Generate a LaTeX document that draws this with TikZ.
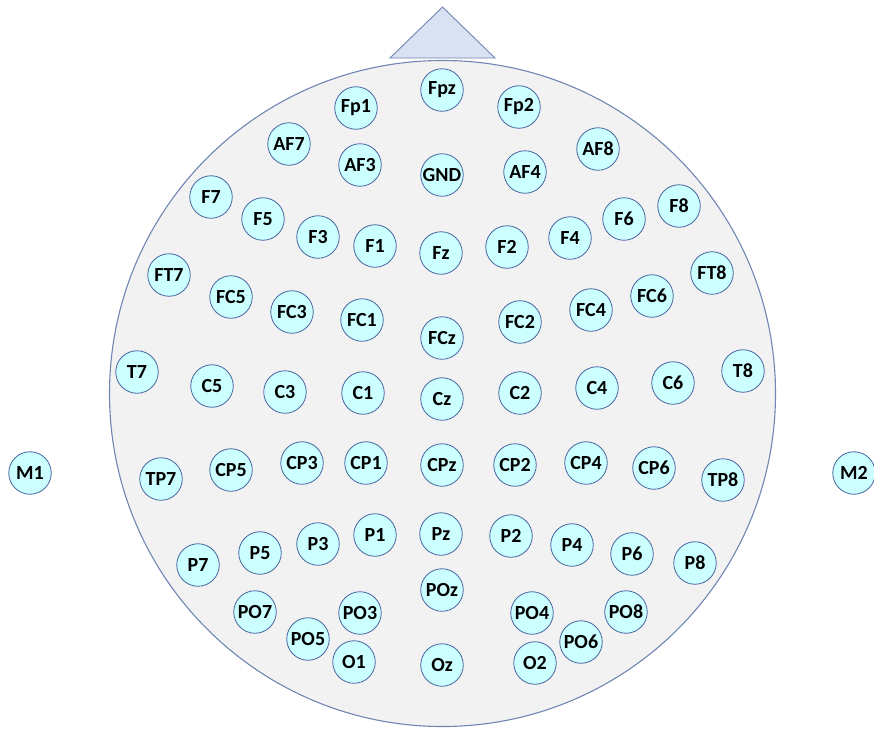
\documentclass[tikz,border=0pt]{standalone}
\usepackage{fontspec}
\setmainfont{Carlito}
\usepackage{tikz}
\usetikzlibrary{positioning}
\definecolor{scalpgray}{RGB}{242,242,242}
\definecolor{outlineblue}{RGB}{112,134,180}
\definecolor{nosefill}{RGB}{217,225,242}
\definecolor{padcyan}{RGB}{204,255,255}
\definecolor{padedge}{RGB}{72,100,160}

\begin{document}
\begin{tikzpicture}[x=1pt, y=-1pt,
    electrode/.style={circle, draw=padedge, line width=0.8pt, fill=padcyan,
      minimum size=42.5pt, inner sep=0pt,
      font=\fontsize{20}{23}\selectfont\bfseries},
    head/.style={draw=outlineblue, line width=1.1pt, fill=scalpgray},
    nose/.style={draw=outlineblue, line width=0.9pt, fill=nosefill}]
  \useasboundingbox (0,0) rectangle (874,731);
  % nose and scalp
  \draw[nose] (390,58) -- (442.5,7) -- (495,58) -- cycle;
  \draw[head] (442.5,393.5) circle (333);
  % midline
  \foreach \n/\x/\y in {Fpz/442/90, GND/442/175, Fz/441/253, FCz/442/338,
      Cz/442/399, CPz/442/465, Pz/441/534, POz/442/590, Oz/442/665}
    \node[electrode] (\n) at (\x,\y) {\n};
  % left hemisphere
  \foreach \n/\x/\y in {Fp1/356/108, AF7/289/144, AF3/360/165,
      F7/211/197, F5/263/219, F3/318/237, F1/375/246,
      FT7/169/275, FC5/231/297, FC3/292/312, FC1/362/320,
      T7/137/372, C5/212/386, C3/285/392, C1/363/393,
      TP7/161/479, CP5/231/470, CP3/302/463, CP1/366/463,
      P7/198/565, P5/260/553, P3/318/544, P1/375/535,
      PO7/255/612, PO3/360/613, PO5/308/639, O1/354/662}
    \node[electrode] (\n) at (\x,\y) {\n};
  % right hemisphere
  \foreach \n/\x/\y in {Fp2/519/107, AF8/598/149, AF4/525/172,
      F8/679/206, F6/624/219, F4/570/238, F2/507/247,
      FT8/712/273, FC6/652/296, FC4/591/310, FC2/520/322,
      T8/743/371, C6/673/383, C4/597/388, C2/520/393,
      TP8/723/480, CP6/654/468, CP4/586/463, CP2/515/465,
      P8/695/563, P6/632/554, P4/572/545, P2/511/536,
      PO8/626/612, PO4/532/613, PO6/581/642, O2/535/663}
    \node[electrode] (\n) at (\x,\y) {\n};
  % mastoids
  \node[electrode] (M1) at (30,473) {M1};
  \node[electrode] (M2) at (854,473) {M2};
\end{tikzpicture}
\end{document}
